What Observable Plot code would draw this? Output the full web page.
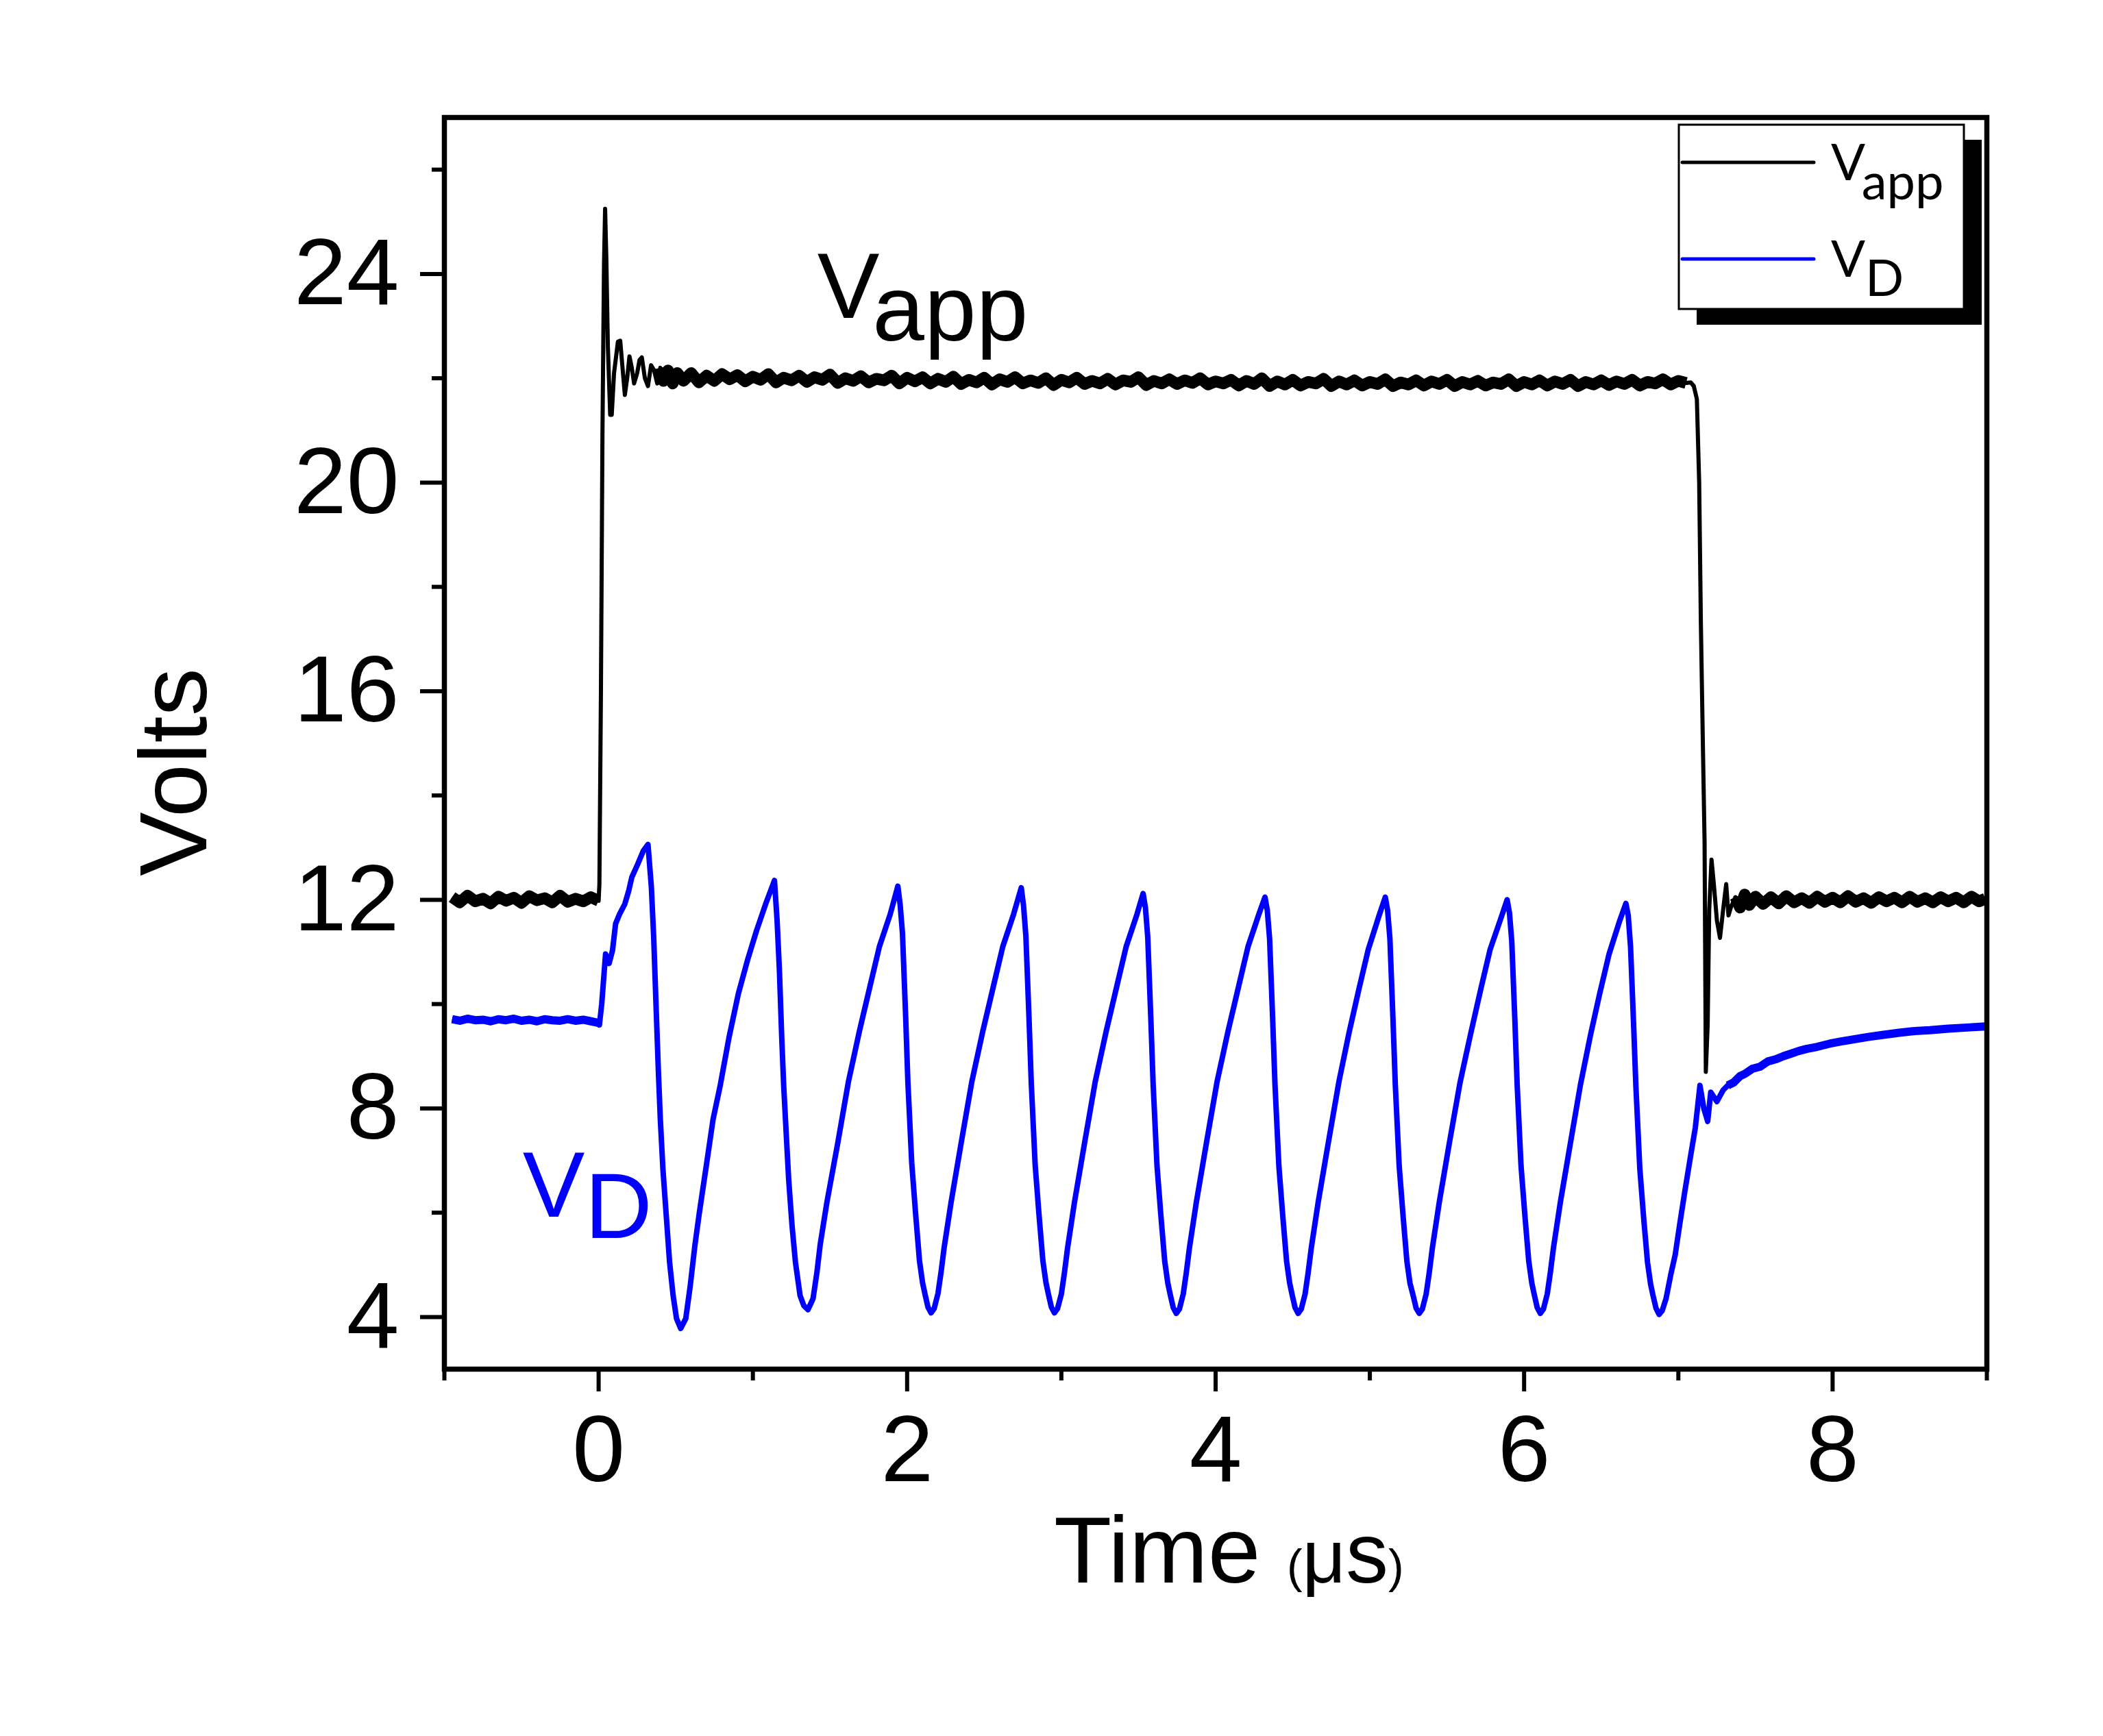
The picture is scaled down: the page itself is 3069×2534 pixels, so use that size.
<!DOCTYPE html>
<html><head><meta charset="utf-8">
<script src="https://cdn.jsdelivr.net/npm/d3@7"></script>
<script src="https://cdn.jsdelivr.net/npm/@observablehq/plot@0.6"></script>
<style>html,body{margin:0;padding:0;background:#fff;overflow:hidden}</style>
</head><body><div id="chart"></div>
<script>
// ---- Data: [time (µs), volts] ----
const vappPre = [[-0.95,12.05],[-0.9,11.95],[-0.85,12.08],[-0.8,11.97],[-0.75,12.02],[-0.7,11.93],[-0.65,12.06],[-0.6,11.98],[-0.55,12.04],[-0.5,11.94],[-0.45,12.07],[-0.4,11.99],[-0.35,12.03],[-0.3,11.95],[-0.25,12.08],[-0.2,11.96],[-0.15,12.02],[-0.1,11.97],[-0.05,12.05],[0,11.98]];
const vappRing = [[0.005,12.3],[0.015,16.0],[0.025,21.0],[0.035,24.2],[0.042,25.25],[0.05,24.3],[0.06,22.6],[0.075,21.3],[0.085,21.3],[0.1,22.1],[0.125,22.7],[0.14,22.72],[0.155,22.2],[0.17,21.68],[0.185,22.0],[0.2,22.42],[0.215,22.2],[0.23,21.9],[0.25,22.1],[0.265,22.35],[0.28,22.4],[0.3,22.0],[0.32,21.85],[0.34,22.25],[0.36,22.15],[0.38,21.9]];
const vappSettle = [[0.4,22.2],[0.42,21.95],[0.45,22.15],[0.48,21.9],[0.51,22.1],[0.55,21.95],[0.6,22.1],[0.65,21.92],[0.7,22.05],[0.75,21.95],[0.8,22.08]];
const vappPlateauA = [[0.85,21.98],[0.9,22.06],[0.95,21.94],[1.0,22.03],[1.05,21.97],[1.1,22.08],[1.15,21.92],[1.2,22.01],[1.25,21.96],[1.3,22.05],[1.35,21.93],[1.4,22.02],[1.45,21.97],[1.5,22.07],[1.55,21.91],[1.6,22.0],[1.65,21.95],[1.7,22.04],[1.75,21.92],[1.8,21.99],[1.85,21.96],[1.9,22.05],[1.95,21.9],[2.0,22.01]];
const vappPlateauB = [[2.05,21.94],[2.1,22.02],[2.15,21.9],[2.2,21.99],[2.25,21.93],[2.3,22.03],[2.35,21.89],[2.4,21.97],[2.45,21.92],[2.5,22.01],[2.55,21.88],[2.6,21.98],[2.65,21.93],[2.7,22.02],[2.75,21.9],[2.8,21.96],[2.85,21.91],[2.9,22.0],[2.95,21.87],[3.0,21.97],[3.05,21.92],[3.1,22.01],[3.15,21.89],[3.2,21.95],[3.25,21.9],[3.3,21.99],[3.35,21.88],[3.4,21.96],[3.45,21.93],[3.5,22.02],[3.55,21.87],[3.6,21.95],[3.65,21.9],[3.7,21.98],[3.75,21.89],[3.8,21.96],[3.85,21.91],[3.9,22.0],[3.95,21.88],[4.0,21.94]];
const vappPlateauC = [[4.05,21.9],[4.1,21.97],[4.15,21.86],[4.2,21.95],[4.25,21.89],[4.3,22.0],[4.35,21.85],[4.4,21.94],[4.45,21.88],[4.5,21.97],[4.55,21.86],[4.6,21.93],[4.65,21.9],[4.7,21.99],[4.75,21.85],[4.8,21.94],[4.85,21.88],[4.9,21.96],[4.95,21.86],[5.0,21.93],[5.05,21.89],[5.1,21.98],[5.15,21.85],[5.2,21.92],[5.25,21.88],[5.3,21.96],[5.35,21.86],[5.4,21.94],[5.45,21.89],[5.5,21.97],[5.55,21.85],[5.6,21.93],[5.65,21.88],[5.7,21.95],[5.75,21.86],[5.8,21.92],[5.85,21.89],[5.9,21.98],[5.95,21.85],[6.0,21.93],[6.05,21.88],[6.1,21.96],[6.15,21.86],[6.2,21.94],[6.25,21.89],[6.3,21.97],[6.35,21.85],[6.4,21.93],[6.45,21.88],[6.5,21.96],[6.55,21.87],[6.6,21.94],[6.65,21.89],[6.7,21.97],[6.75,21.86],[6.8,21.93],[6.85,21.9],[6.9,21.98],[6.95,21.88],[7.0,21.95],[7.05,21.91]];
const vappFall = [[7.08,21.92],[7.1,21.85],[7.12,21.6],[7.135,20.0],[7.146,17.3],[7.16,14.8],[7.17,13.1],[7.178,8.7],[7.19,9.6],[7.2,11.8],[7.215,12.77],[7.23,12.3],[7.25,11.6],[7.27,11.27],[7.29,11.8],[7.31,12.3],[7.325,11.7],[7.34,11.85]];
const vappPost = [[7.37,12.05],[7.4,11.85],[7.43,12.1],[7.46,11.9],[7.5,12.06],[7.55,11.92],[7.6,12.05],[7.65,11.93],[7.7,12.07],[7.75,11.95],[7.8,12.03],[7.85,11.94],[7.9,12.06],[7.95,11.96],[8.0,12.04],[8.05,11.95],[8.1,12.07],[8.15,11.96],[8.2,12.03],[8.25,11.94],[8.3,12.05],[8.35,11.97],[8.4,12.04],[8.45,11.95],[8.5,12.06],[8.55,11.96],[8.6,12.03],[8.65,11.95],[8.7,12.05],[8.75,11.97],[8.8,12.04],[8.85,11.95],[8.9,12.06],[8.95,11.97],[8.99,12.02]];

const vdPre = [[-0.95,9.71],[-0.9,9.68],[-0.85,9.72],[-0.8,9.69],[-0.75,9.7],[-0.7,9.67],[-0.65,9.71],[-0.6,9.69],[-0.55,9.72],[-0.5,9.68],[-0.45,9.7],[-0.4,9.67],[-0.35,9.71],[-0.3,9.69],[-0.25,9.68],[-0.2,9.71],[-0.15,9.68],[-0.1,9.7],[-0.05,9.67],[0,9.64]];
const vdCycle1 = [[0.005,9.6],[0.02,10.0],[0.045,10.96],[0.068,10.78],[0.09,11.03],[0.11,11.54],[0.135,11.72],[0.17,11.92],[0.195,12.17],[0.215,12.43],[0.253,12.68],[0.29,12.94],[0.32,13.06],[0.342,12.24],[0.357,11.28],[0.372,10.0],[0.387,8.74],[0.4,7.79],[0.417,6.83],[0.44,5.88],[0.46,5.05],[0.483,4.41],[0.505,3.97],[0.532,3.78]];
const vdCycle2 = [[0.565,3.97],[0.594,4.6],[0.624,5.37],[0.653,6.0],[0.698,6.9],[0.742,7.79],[0.787,8.42],[0.846,9.37],[0.906,10.2],[0.965,10.84],[1.024,11.41],[1.083,11.92],[1.14,12.37],[1.157,11.6],[1.172,10.65],[1.187,9.37],[1.2,8.42],[1.217,7.47],[1.232,6.64],[1.254,5.75],[1.276,5.05],[1.306,4.41],[1.33,4.22],[1.357,4.14]];
const vdCycle3 = [[1.39,4.35],[1.415,4.85],[1.437,5.4],[1.48,6.2],[1.55,7.33],[1.62,8.52],[1.69,9.47],[1.76,10.35],[1.82,11.1],[1.89,11.72],[1.94,12.26],[1.955,11.9],[1.97,11.35],[1.99,9.8],[2.005,8.5],[2.03,6.95],[2.055,5.98],[2.08,5.08],[2.1,4.66],[2.115,4.45],[2.135,4.19],[2.155,4.08]];
const vdCycle4 = [[2.175,4.16],[2.2,4.45],[2.22,4.86],[2.24,5.33],[2.285,6.2],[2.35,7.33],[2.42,8.52],[2.49,9.47],[2.56,10.35],[2.62,11.1],[2.69,11.72],[2.74,12.23],[2.755,11.88],[2.77,11.3],[2.79,9.75],[2.805,8.48],[2.83,6.92],[2.855,5.96],[2.88,5.08],[2.9,4.66],[2.915,4.45],[2.935,4.19],[2.955,4.08]];
const vdCycle5 = [[2.975,4.16],[3.0,4.44],[3.02,4.85],[3.04,5.32],[3.085,6.2],[3.15,7.33],[3.22,8.52],[3.29,9.47],[3.36,10.35],[3.42,11.1],[3.49,11.72],[3.53,12.12],[3.545,11.85],[3.56,11.28],[3.58,9.72],[3.595,8.46],[3.62,6.9],[3.645,5.95],[3.67,5.07],[3.69,4.65],[3.705,4.44],[3.725,4.18],[3.745,4.07]];
const vdCycle6 = [[3.765,4.15],[3.79,4.44],[3.81,4.85],[3.83,5.32],[3.875,6.2],[3.94,7.33],[4.01,8.52],[4.08,9.47],[4.15,10.35],[4.21,11.1],[4.28,11.72],[4.32,12.05],[4.335,11.8],[4.35,11.25],[4.37,9.7],[4.385,8.45],[4.41,6.9],[4.435,5.95],[4.46,5.07],[4.48,4.65],[4.495,4.44],[4.515,4.18],[4.535,4.07]];
const vdCycle7 = [[4.555,4.15],[4.58,4.44],[4.6,4.85],[4.62,5.32],[4.665,6.2],[4.73,7.33],[4.8,8.52],[4.865,9.45],[4.93,10.3],[4.99,11.05],[5.06,11.7],[5.1,12.05],[5.115,11.8],[5.13,11.25],[5.15,9.7],[5.165,8.45],[5.19,6.9],[5.215,5.95],[5.24,5.07],[5.26,4.65],[5.28,4.42],[5.3,4.17],[5.32,4.07]];
const vdCycle8 = [[5.34,4.15],[5.365,4.44],[5.385,4.85],[5.405,5.32],[5.45,6.2],[5.515,7.33],[5.585,8.5],[5.655,9.45],[5.72,10.3],[5.78,11.05],[5.85,11.65],[5.89,12.0],[5.905,11.75],[5.92,11.2],[5.94,9.7],[5.955,8.45],[5.98,6.9],[6.005,5.95],[6.03,5.07],[6.05,4.65],[6.065,4.44],[6.085,4.18],[6.105,4.07]];
const vdCycle9 = [[6.125,4.15],[6.15,4.44],[6.17,4.85],[6.19,5.32],[6.235,6.2],[6.3,7.33],[6.365,8.45],[6.43,9.4],[6.49,10.2],[6.55,10.95],[6.62,11.6],[6.66,11.93],[6.675,11.7],[6.69,11.1],[6.71,9.6],[6.725,8.4],[6.75,6.85],[6.775,5.9],[6.8,5.05],[6.82,4.63],[6.835,4.42],[6.855,4.17],[6.875,4.05]];
const vdTurnOff = [[6.895,4.12],[6.92,4.35],[6.95,4.8],[6.98,5.2],[7.01,5.8],[7.04,6.37],[7.08,7.1],[7.11,7.63],[7.14,8.44],[7.165,8.0],[7.19,7.75],[7.21,8.31],[7.25,8.13],[7.29,8.35]];
const vdRecovery = [[7.32,8.44],[7.36,8.5],[7.4,8.62],[7.43,8.66],[7.48,8.76],[7.53,8.8],[7.58,8.9],[7.63,8.94],[7.68,9.0],[7.73,9.05],[7.78,9.1],[7.83,9.14],[7.9,9.18],[7.98,9.24],[8.05,9.28],[8.13,9.32],[8.23,9.37],[8.33,9.41],[8.43,9.45],[8.52,9.48],[8.63,9.5],[8.75,9.53],[8.87,9.55],[8.99,9.57]];

const xMajorTicks = [0, 2, 4, 6, 8];
const xMinorTicks = [-1, 1, 3, 5, 7, 9];
const yMajorTicks = [4, 8, 12, 16, 20, 24];
const yMinorTicks = [6, 10, 14, 18, 22, 26];

const toRows = (arr, seg = 0) => arr.map(([t, v]) => ({t, v, seg}));
const vapp = toRows([...vappPre, ...vappRing, ...vappSettle, ...vappPlateauA, ...vappPlateauB, ...vappPlateauC, ...vappFall, ...vappPost]);
const vd = toRows([...vdPre, ...vdCycle1, ...vdCycle2, ...vdCycle3, ...vdCycle4, ...vdCycle5, ...vdCycle6, ...vdCycle7, ...vdCycle8, ...vdCycle9, ...vdTurnOff, ...vdRecovery]);
// flat, noisy stretches of the traces (drawn as a thicker noise band)
const vappNoisy = [
  ...toRows(vappPre, "pre"),
  ...toRows([...vappSettle, ...vappPlateauA, ...vappPlateauB, ...vappPlateauC], "on"),
  ...toRows(vappPost, "post")
];
const vdNoisy = [...toRows(vdPre, "pre"), ...toRows(vdRecovery, "post")];

const FONT = "'Liberation Sans', Arial, sans-serif";
const chart = Plot.plot({
  width: 3069, height: 2534,
  marginLeft: 648, marginRight: 170, marginTop: 171, marginBottom: 536,
  style: {fontFamily: FONT, background: "white", color: "black", overflow: "visible"},
  x: {domain: [-1, 9]},
  y: {domain: [3, 27]},
  marks: [
    Plot.line(vdNoisy, {x: "t", y: "v", z: "seg", stroke: "#0000ff", strokeWidth: 12, strokeLinejoin: "round", strokeLinecap: "butt"}),
    Plot.line(vd, {x: "t", y: "v", stroke: "#0000ff", strokeWidth: 8, strokeLinejoin: "round", strokeLinecap: "butt"}),
    Plot.line(vappNoisy, {x: "t", y: "v", z: "seg", stroke: "black", strokeWidth: 17, strokeLinejoin: "round", strokeLinecap: "butt"}),
    Plot.line(vapp, {x: "t", y: "v", stroke: "black", strokeWidth: 6, strokeLinejoin: "round", strokeLinecap: "butt"}),
    Plot.axisX({ticks: xMajorTicks, tickSize: 33, tickPadding: 33, fontSize: 138, strokeWidth: 6, label: null}),
    Plot.axisX({ticks: xMinorTicks, tickSize: 17, tickFormat: () => "", strokeWidth: 6, label: null}),
    Plot.axisY({ticks: yMajorTicks, tickSize: 35, tickPadding: 31, fontSize: 138, strokeWidth: 6, label: null}),
    Plot.axisY({ticks: yMinorTicks, tickSize: 18, tickFormat: () => "", strokeWidth: 6, label: null}),
    Plot.frame({stroke: "black", strokeWidth: 7.5})
  ]
});
document.getElementById("chart").appendChild(chart);

const svg = d3.select(chart);
const sx = chart.scale("x"), sy = chart.scale("y");

// Axis titles
svg.append("text")
  .attr("transform", "translate(301,1127) rotate(-90)")
  .attr("text-anchor", "middle").attr("font-family", FONT).attr("font-size", 140)
  .attr("fill", "black").text("Volts");
const xt = svg.append("text").attr("x", 1538).attr("y", 2310).attr("text-anchor", "start")
  .attr("font-family", FONT).attr("fill", "black");
xt.append("tspan").attr("font-size", 138).text("Time ");
xt.append("tspan").attr("font-size", 68).text("(");
xt.append("tspan").attr("font-size", 110).text("\u03bc");
xt.append("tspan").attr("font-size", 124).text("s");
xt.append("tspan").attr("font-size", 68).text(")");

// In-plot annotations (positioned in data units through the scales)
const a1 = svg.append("text").attr("x", sx.apply(1.42)).attr("y", sy.apply(23.15)).attr("text-anchor", "start")
  .attr("font-family", FONT).attr("font-size", 136).attr("fill", "black");
a1.append("tspan").text("V");
a1.append("tspan").attr("dy", 33).text("app");
const a2 = svg.append("text").attr("x", sx.apply(-0.49)).attr("y", sy.apply(5.91)).attr("text-anchor", "start")
  .attr("font-family", FONT).attr("font-size", 136).attr("fill", "#0000ff");
a2.append("tspan").text("V");
a2.append("tspan").attr("dy", 31).text("D");

// Legend box with drop shadow
const LFONT = "Lato, 'Open Sans', sans-serif";
const lg = svg.append("g").attr("text-anchor", "start");
lg.append("rect").attr("x", 2476).attr("y", 204).attr("width", 416).attr("height", 270).attr("fill", "black");
lg.append("rect").attr("x", 2450).attr("y", 182).attr("width", 416).attr("height", 269)
  .attr("fill", "white").attr("stroke", "black").attr("stroke-width", 3);
const entries = [{label: "V", sub: "app", color: "black", y: 237}, {label: "V", sub: "D", color: "#0000ff", y: 378}];
for (const e of entries) {
  lg.append("line").attr("x1", 2455).attr("x2", 2647).attr("y1", e.y).attr("y2", e.y)
    .attr("stroke", e.color).attr("stroke-width", 5).attr("stroke-linecap", "round");
  const t = lg.append("text").attr("x", 2672).attr("y", e.y + 26).attr("text-anchor", "start")
    .attr("font-family", LFONT).attr("font-size", 74).attr("fill", "black");
  t.append("tspan").text(e.label);
  t.append("tspan").attr("dy", 28).text(e.sub);
}
</script></body></html>
